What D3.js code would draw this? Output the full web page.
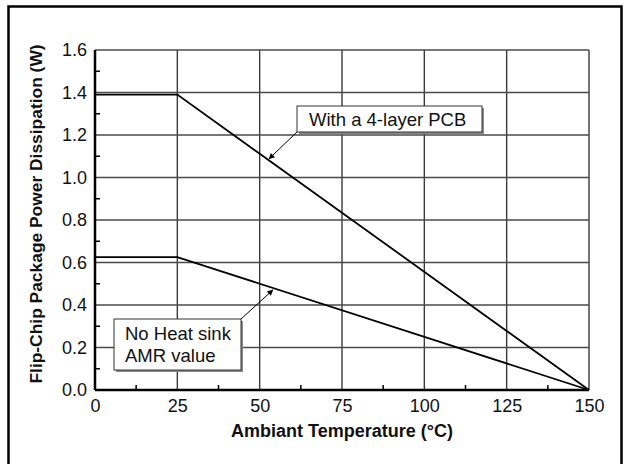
<!DOCTYPE html>
<html><head><meta charset="utf-8">
<script src="https://cdn.jsdelivr.net/npm/d3@7/dist/d3.min.js"></script>
<style>body{margin:0;background:#fff;}svg{display:block;font-family:"Liberation Sans",Arial,sans-serif;}</style>
</head><body>
<script>
// Data
const temps = [0, 25, 150];
const pcbPower = [1.39, 1.39, 0.0];
const noSinkPower = [0.625, 0.625, 0.0];
const xTicks = [0, 25, 50, 75, 100, 125, 150];
const yTicks = [0.0, 0.2, 0.4, 0.6, 0.8, 1.0, 1.2, 1.4, 1.6];
const xMinor = [12.5, 37.5, 62.5, 87.5, 112.5, 137.5];
const yMinor = [0.1, 0.3, 0.5, 0.7, 0.9, 1.1, 1.3, 1.5];
const labels = {pcb: ["With a 4-layer PCB"], nosink: ["No Heat sink", "AMR value"]};

const W = 623, H = 464;
const FONT = "Liberation Sans, Arial, sans-serif";
const svg = d3.select("body").append("svg").attr("width", W).attr("height", H);

// outer frame
svg.append("path").attr("d", `M8.5,${H} V6.5 H621.5 V${H}`).attr("fill", "none").attr("stroke", "#000").attr("stroke-width", 2.5);

const x = d3.scaleLinear().domain([0, 150]).range([95, 589]);
const y = d3.scaleLinear().domain([0, 1.6]).range([390, 50]);

// grid
const g = svg.append("g");
g.selectAll("line.vg").data(xTicks.slice(1)).join("line")
  .attr("x1", d => x(d)).attr("x2", d => x(d)).attr("y1", y(0)).attr("y2", y(1.6))
  .attr("stroke", "#3a3a3a").attr("stroke-width", 1.4);
g.selectAll("line.hg").data(yTicks.slice(1)).join("line")
  .attr("x1", x(0)).attr("x2", x(150)).attr("y1", d => y(d)).attr("y2", d => y(d))
  .attr("stroke", "#4a4a4a").attr("stroke-width", 1.4);

// minor ticks
g.selectAll("line.xm").data(xMinor).join("line")
  .attr("x1", d => x(d)).attr("x2", d => x(d)).attr("y1", y(0)).attr("y2", y(0) - 5)
  .attr("stroke", "#000").attr("stroke-width", 1.5);
g.selectAll("line.ym").data(yMinor).join("line")
  .attr("x1", x(0)).attr("x2", x(0) + 5).attr("y1", d => y(d)).attr("y2", d => y(d))
  .attr("stroke", "#000").attr("stroke-width", 1.5);

// axes lines
svg.append("line").attr("x1", x(0)).attr("x2", x(150)).attr("y1", y(0)).attr("y2", y(0)).attr("stroke", "#000").attr("stroke-width", 2.5);
svg.append("line").attr("x1", x(0)).attr("x2", x(0)).attr("y1", y(0)).attr("y2", y(1.6)).attr("stroke", "#000").attr("stroke-width", 2.5);

// tick labels via d3 axis
const xAxis = svg.append("g").attr("transform", `translate(0,${y(0)})`)
  .call(d3.axisBottom(x).tickValues(xTicks).tickSize(0).tickPadding(9).tickFormat(d3.format("d")));
xAxis.select(".domain").remove();
xAxis.attr("font-size", null).attr("font-family", null);
xAxis.selectAll("text").style("font-size", "18px").attr("fill", "#111").style("font-family", FONT);
const yAxis = svg.append("g").attr("transform", `translate(${x(0)},0)`)
  .call(d3.axisLeft(y).tickValues(yTicks).tickSize(0).tickPadding(8).tickFormat(d3.format(".1f")));
yAxis.select(".domain").remove();
yAxis.attr("font-size", null).attr("font-family", null);
yAxis.selectAll("text").style("font-size", "18px").attr("fill", "#111").style("font-family", FONT);

// axis titles
svg.append("text").attr("x", 342).attr("y", 437).attr("text-anchor", "middle")
  .style("font-size", "18px").attr("font-weight", "bold").attr("fill", "#111").text("Ambiant Temperature (°C)");
svg.append("text").attr("transform", `translate(42,214) rotate(-90)`).attr("text-anchor", "middle")
  .style("font-size", "17.4px").attr("font-weight", "bold").attr("fill", "#111").text("Flip-Chip Package Power Dissipation (W)");

// data lines
const line = d3.line().x(d => x(d[0])).y(d => y(d[1]));
[pcbPower, noSinkPower].forEach(vals => {
  svg.append("path").datum(temps.map((t, i) => [t, vals[i]])).attr("d", line)
    .attr("fill", "none").attr("stroke", "#000").attr("stroke-width", 1.8);
});

// annotations
svg.append("defs").append("marker").attr("id", "ar").attr("viewBox", "0 0 10 10").attr("refX", 9).attr("refY", 5)
  .attr("markerWidth", 8).attr("markerHeight", 6).attr("orient", "auto").attr("markerUnits", "userSpaceOnUse")
  .append("path").attr("d", "M0,0 L10,5 L0,10 z").attr("fill", "#000");

function box(x0, y0, w, h, lines, lineH, textX, textY) {
  svg.append("rect").attr("x", x0 + 2).attr("y", y0 + 2).attr("width", w).attr("height", h).attr("fill", "#888");
  svg.append("rect").attr("x", x0).attr("y", y0).attr("width", w).attr("height", h).attr("fill", "#fff").attr("stroke", "#333").attr("stroke-width", 1);
  lines.forEach((t, i) => svg.append("text").attr("x", textX).attr("y", textY + i * lineH).style("font-size", "18.5px").attr("fill", "#111").text(t));
}

// PCB arrow: from box corner to the line at ~T=53
const pcbT = 53, pcbV = 1.39 * (150 - pcbT) / 125;
svg.append("line").attr("x1", 297).attr("y1", 132).attr("x2", x(pcbT) - 0.5).attr("y2", y(pcbV) - 2)
  .attr("stroke", "#000").attr("stroke-width", 1).attr("marker-end", "url(#ar)");
box(297, 106, 185, 26, labels.pcb, 0, 309, 126);

const nsT = 54, nsV = 0.625 * (150 - nsT) / 125;
svg.append("line").attr("x1", 241).attr("y1", 319).attr("x2", x(nsT)).attr("y2", y(nsV) + 2)
  .attr("stroke", "#000").attr("stroke-width", 1).attr("marker-end", "url(#ar)");
box(114, 319, 127, 51, labels.nosink, 21.5, 125, 340);
</script>
</body></html>
